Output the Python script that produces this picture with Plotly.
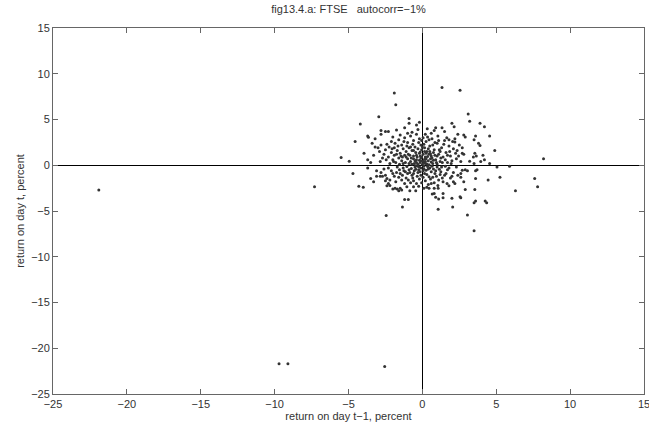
import plotly.graph_objects as go

# return on day t-1 (x) and return on day t (y), percent
outer_x = [-1.9, -1.8, -2.95, -4.2, -0.9, -0.9, -0.4, -0.2, -2.8, -2.5, -2.3, -1.75, -1.2, -3.7, -3.65, -2.8,
           -4.55, -3.2, -3.2, -3.0, -5.5, -4.95, -3.95, -3.7, -2.85,
           1.33, 2.55, 3.1, 3.2, 2.0, 2.15, 3.9, 4.2, 0.33, 0.9, 1.33, 1.5, 0.8, 2.8, 3.6, 4.55, 2.9, 3.5, 3.8,
           3.9, 2.2, 4.9, 2.8, 2.7, 3.55, 3.65, 4.1, 4.2, 4.55, 3.2, 3.45, 2.35, 2.45, 3.5, 3.95, 8.2,
           5.9, 5.05, 5.25, 4.45, 3.6, 7.6, 7.8, 6.3, 2.9, 3.55, 3.6, 3.5, 4.25, 4.35, 2.9, 3.05, 2.7, 3.6,
           3.7, 2.6, 2.6, 2.55, 2.6, 2.05, 1.07, 3.05, 3.5, 2.0, 1.4, 0.9, 1.1, 0.8, 0.67, 1.4, 0.1, 0.45,
           0.8, 1.07, 1.67, 1.8, 2.1,
           -3.7, -4.7, -3.5, -3.1, -2.85, -2.7, -2.5, -2.4, -2.2, -2.3, -2.2, -2.4, -4.3, -4.0, -1.85, -1.7,
           -1.6, -1.5, -1.4, -2.0, -1.2, -0.95, -1.35, -2.45, -0.85, -0.45, -1.05, -0.6, -7.3, -21.9, -9.7,
           -9.1, -2.55]
outer_y = [7.9, 6.6, 5.3, 4.5, 5.1, 4.6, 4.4, 4.7, 3.8, 3.7, 3.7, 3.85, 4.1, 3.2, 3.05, 3.4,
           2.6, 2.9, 2.0, 1.9, 0.85, 0.45, 1.3, 0.6, 0.4,
           8.5, 8.2, 5.6, 4.8, 4.6, 4.2, 4.6, 4.2, 4.0, 4.1, 4.1, 3.7, 3.8, 3.3, 3.2, 3.2, 3.1, 2.8, 2.4,
           2.15, 2.55, 1.6, 1.2, 1.3, 1.3, 1.0, 1.1, 0.6, 0.2, 0.45, 0.9, 1.6, 1.0, 0.2, 0.4, 0.7,
           -0.1, -0.2, -1.3, -1.6, -1.45, -1.45, -2.35, -2.8, -2.65, -2.65, -3.9, -4.1, -3.9, -4.1, -0.5,
           -0.6, -0.55, -0.6, -0.5, -0.9, -1.3, -3.45, -3.55, -4.55, -4.8, -5.45, -7.15, -3.6, -3.55, -3.5,
           -3.7, -3.1, -3.15, -3.1, -2.5, -2.5, -2.5, -2.5, -2.0, -2.25, -1.8,
           -0.3, -0.9, -1.45, -1.2, -1.2, -1.2, -1.1, -1.45, -1.6, -2.0, -2.2, -2.25, -2.3, -2.4, -2.5, -2.6,
           -2.8, -2.5, -2.7, -2.6, -3.75, -3.75, -4.55, -5.5, -2.8, -2.8, -2.35, -2.35, -2.35, -2.7, -21.7,
           -21.7, -22.0]

core_x = [-2.4, -2.1, -1.9, -1.6, -1.4, -1.2, -1.0, -0.8, -0.6, -0.4, -0.2, -0.1, -0.3, -0.5, -0.7, -0.9,
          -1.1, -1.3, -1.5, -1.7, -1.9, -2.1, -2.3, -2.6, -2.0, -1.8, -1.6, -1.4, -1.2, -1.0, -0.8, -0.6,
          -0.4, -0.2, -0.15, -0.35, -0.55, -0.75, -0.95, -1.15, -1.35, -1.55, -1.75, -1.95, -2.2, -2.45,
          -2.7, -2.9, -3.3, -3.5, -0.05, -0.25, -0.45, -0.65, -0.85, -1.05, -1.25, -1.45, -1.65, -1.85,
          -2.05, -2.25, -2.5, -2.8, -3.4, -1.0, -0.3, -0.7, -1.5, -2.0, -0.1, -0.3, -0.5, -0.7, -0.9, -1.1,
          -1.3, -0.2, -0.4, -0.6, -0.8, -0.15,
          0.1, 0.2, 0.3, 0.4, 0.5, 0.6, 0.7, 0.8, 0.9, 1.0, 1.1, 1.2, 1.3, 1.4, 1.5, 1.6, 1.7, 1.8, 1.9,
          2.0, 2.1, 2.2, 2.3, 2.5, 0.15, 0.25, 0.35, 0.45, 0.55, 0.65, 0.75, 0.85, 0.95, 1.05, 1.15, 1.25,
          1.45, 1.55, 1.65, 1.85, 2.05, 2.25, 2.6, 2.7, 0.05, 0.1, 0.2, 0.3, 0.4, 0.5, 0.6, 0.7, 0.85, 1.0,
          1.2, 1.35, 1.7, 1.95, 0.2, 0.6, 1.1, 0.45, 1.8, 2.4, 0.15, 0.35, 0.25, 0.05, 0.55, 1.0, 0.75,
          -0.1, -0.3, -0.5, -0.7, -0.9, -1.1, -1.3, -1.5, -1.7, -1.9, -2.1, -2.3, -0.2, -0.4, -0.6, -0.8,
          -1.0, -1.2, -1.4, -1.6, -1.8, -2.0, -0.15, -0.35, -0.55, -0.75, -0.95, -1.15, -1.35, -1.55, -1.75,
          -2.6, -2.8, -3.1, -0.25, -0.1, -0.45, -0.65, -0.85, -1.05, -1.25, -0.05, -0.3, -0.6, -2.5, -3.3,
          0.1, 0.3, 0.5, 0.7, 0.9, 1.1, 1.3, 1.5, 1.7, 1.9, 2.1, 2.3, 0.2, 0.4, 0.6, 0.8, 1.0, 1.2, 1.4,
          1.6, 1.8, 2.0, 0.15, 0.35, 0.55, 0.75, 0.95, 1.15, 1.35, 1.55, 2.2, 2.4, 0.05, 0.25, 0.45, 0.65,
          0.85, 1.05, 1.25, 2.8, 0.3, 0.6,
          0.0, -0.1, 0.1, -0.2, 0.2, -0.05, 0.05, -0.4, 0.4, -0.25, 0.25, 0.45, -0.45, 0.15, -0.15, 0.0,
          -0.05, 0.05, -0.6, 0.65]
core_y = [2.3, 2.6, 1.9, 2.8, 2.2, 3.0, 2.5, 3.2, 2.7, 3.4, 2.9, 2.2, 1.8, 2.0, 1.6, 1.9,
          1.5, 1.8, 1.3, 1.6, 1.1, 1.4, 0.9, 1.2, 0.6, 0.3, 0.8, 0.5, 1.1, 0.7, 0.4, 1.0,
          0.6, 1.3, 0.3, 0.9, 0.2, 0.8, 1.2, 0.3, 0.9, 0.1, 1.2, 0.4, 0.2, 0.6,
          0.8, 1.5, 1.1, 0.3, 1.7, 2.5, 1.4, 2.3, 1.1, 2.1, 2.6, 1.0, 2.1, 2.4,
          1.8, 2.0, 1.7, 2.2, 2.4, 3.5, 3.9, 3.6, 3.3, 3.1, 0.8, 0.1, 0.5, 0.1, 0.2, 0.9,
          0.2, 0.55, 1.1, 1.6, 2.0, 1.0,
          0.3, 0.9, 1.5, 0.5, 2.1, 1.0, 0.2, 1.7, 0.6, 2.4, 1.2, 0.4, 1.9, 0.9, 2.7, 1.4, 0.3, 2.1, 1.0,
          0.5, 1.8, 2.9, 0.7, 2.2, 1.9, 2.6, 3.1, 1.2, 0.7, 2.9, 1.4, 2.5, 0.3, 3.2, 1.7, 0.8,
          2.3, 0.6, 3.0, 1.5, 2.6, 1.3, 0.4, 1.9, 1.2, 2.3, 0.4, 0.15, 1.8, 1.5, 0.35, 2.2, 1.1, 0.15,
          1.5, 0.3, 1.1, 0.2, 3.4, 3.5, 2.7, 2.8, 2.8, 3.4, 0.65, 0.95, 1.3, 0.45, 1.25, 1.0, 0.55,
          -0.3, -0.8, -0.2, -1.1, -0.5, -1.4, -0.3, -0.9, -0.2, -1.2, -0.6, -0.3, -1.5, -2.0, -1.7, -1.9,
          -0.9, -2.0, -1.6, -1.3, -1.8, -0.9, -0.7, -1.2, -0.6, -0.35, -1.6, -0.7, -1.1, -0.5, -0.8,
          -0.4, -0.8, -0.6, -2.3, -1.1, -0.45, -1.4, -0.8, -0.15, -0.6, -1.9, -0.1, -0.9, -1.7, -1.8,
          -0.4, -1.0, -0.3, -1.3, -0.6, -1.6, -0.2, -1.1, -0.5, -1.4, -0.8, -0.2, -1.7, -2.1, -0.7, -1.9,
          -0.2, -1.0, -1.8, -0.9, -0.3, -1.2, -0.9, -0.15, -1.5, -0.4, -1.2, -0.45, -1.4, -0.1, -2.0, -1.1,
          -1.3, -0.55, -1.25, -0.1, -0.9, -2.2, -0.7, -1.8, -2.4, -2.0,
          0.1, 0.5, -0.1, -0.2, 0.2, 0.9, -0.6, 0.3, -0.4, -0.5, 0.7, 0.05, -0.05, 1.5, 1.45, 2.0,
          2.7, 3.0, 0.7, 0.8]

xs = outer_x + core_x
ys = outer_y + core_y

tick_vals = [-25, -20, -15, -10, -5, 0, 5, 10, 15]
title_text = "fig13.4.a: FTSE   autocorr=\u22121%"
x_label = "return on day t\u22121, percent"
y_label = "return on day t, percent"

font = dict(family="Liberation Sans, Arial, sans-serif", size=11, color="#333")

fig = go.Figure(go.Scatter(
    x=xs, y=ys, mode="markers",
    marker=dict(size=3, color="#333333", line=dict(width=0)),
    hoverinfo="skip", showlegend=False,
))

axis_common = dict(
    range=[-25, 15], tickvals=tick_vals, ticks="inside", ticklen=5, tickcolor="#666",
    showline=True, linecolor="#666", linewidth=1, mirror="ticks", showgrid=False,
    zeroline=True, zerolinecolor="#000", zerolinewidth=1.3, tickfont=font, automargin=False,
    ticklabeloverflow="allow",
)

fig.update_layout(
    width=649, height=422,
    margin=dict(l=53, r=5, t=28, b=28),
    paper_bgcolor="white", plot_bgcolor="white",
    font=font,
    title=dict(text=title_text, x=0.5, xref="paper", y=0.978, yref="container",
               yanchor="middle", font=dict(size=11, color="#333")),
    xaxis=dict(axis_common, title=dict(text=x_label, standoff=2, font=font)),
    yaxis=dict(axis_common, title=dict(text=y_label, standoff=4, font=font)),
)

fig.write_html("out.html", config={"displayModeBar": False},
               post_script="document.body.style.margin='0';document.body.style.overflow='hidden';")
